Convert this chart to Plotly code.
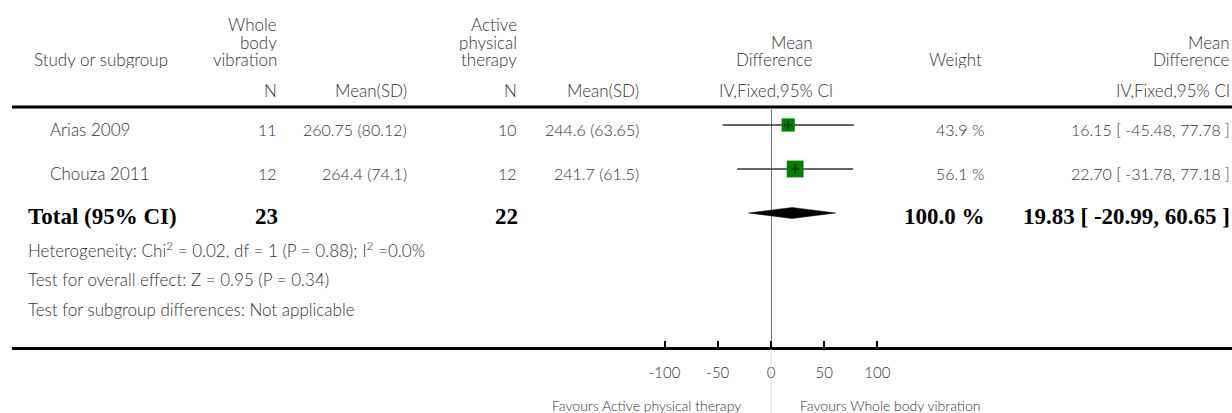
import plotly.graph_objects as go

# ---------------- data ----------------
studies = ["Arias 2009", "Chouza 2011"]
n_wbv = [11, 12]
msd_wbv = ["260.75 (80.12)", "264.4 (74.1)"]
n_apt = [10, 12]
msd_apt = ["244.6 (63.65)", "241.7 (61.5)"]
md = [16.15, 22.70]
ci_lo = [-45.48, -31.78]
ci_hi = [77.78, 77.18]
weights = [43.9, 56.1]

total_label = "Total (95% CI)"
total_n_wbv = 23
total_n_apt = 22
total_md = 19.83
total_lo = -20.99
total_hi = 60.65
total_weight = 100.0

tick_vals = [-100, -50, 0, 50, 100]
tick_text = ["-100", "-50", "0", "50", "100"]

footnotes = [
    "Heterogeneity: Chi<sup>2</sup> = 0.02, df = 1 (P = 0.88); I<sup>2</sup> =0.0%",
    "Test for overall effect: Z = 0.95 (P = 0.34)",
    "Test for subgroup differences: Not applicable",
]
favours_left = "Favours Active physical therapy"
favours_right = "Favours Whole body vibration"

# ---------------- layout constants ----------------
W, H = 1232, 413
PX_PER_UNIT = 1.064
ZERO_PX = 771
AX_LEFT_PX = 12
PLOT_TOP_PX = 109
AXIS_PX = 347
ROW_Y = [125, 169]
TOTAL_Y = 213
TEXT_DY = 5
FOOT_Y = [249, 279, 309]
DIAMOND_HALF = 5.5
SQUARE_SCALE = 0.3

BODY = "Lato, 'Open Sans', sans-serif"
BOLD = "'Liberation Serif', 'Times New Roman', serif"
TXT = "#333333"
WORD_SIZE = 17
NUM_SIZE = 16


def fx(px):
    return px / W


def fy(py):
    return (H - py) / H


x_range = [(AX_LEFT_PX - ZERO_PX) / PX_PER_UNIT, (W - ZERO_PX) / PX_PER_UNIT]

fig = go.Figure()

# CI lines
ci_x, ci_y = [], []
for lo, hi, y in zip(ci_lo, ci_hi, ROW_Y):
    ci_x += [lo, hi, None]
    ci_y += [y, y, None]
fig.add_trace(go.Scatter(x=ci_x, y=ci_y, mode="lines",
                         line=dict(color="#333333", width=1.5), hoverinfo="skip"))

# weight squares
fig.add_trace(go.Scatter(x=md, y=ROW_Y, mode="markers",
                         marker=dict(symbol="square", color="#008000", opacity=1,
                                     size=[w * SQUARE_SCALE for w in weights],
                                     line=dict(width=0)),
                         hoverinfo="skip"))
# centre crosses
fig.add_trace(go.Scatter(x=md, y=ROW_Y, mode="markers",
                         marker=dict(symbol="cross-thin", size=6, opacity=1,
                                     line=dict(color="#111111", width=1)),
                         hoverinfo="skip"))

# pooled diamond
fig.add_trace(go.Scatter(
    x=[total_lo, total_md, total_hi, total_md, total_lo],
    y=[TOTAL_Y, TOTAL_Y - DIAMOND_HALF, TOTAL_Y, TOTAL_Y + DIAMOND_HALF, TOTAL_Y],
    mode="lines", fill="toself", fillcolor="black",
    line=dict(color="black", width=0.5), hoverinfo="skip"))

ann = []


def txt(x, y, s, anchor="right", size=WORD_SIZE, family=BODY, color=TXT,
        weight=300, height=None):
    a = dict(x=fx(x), y=fy(y), xref="paper", yref="paper", text=s,
             xanchor=anchor, yanchor="middle", showarrow=False,
             font=dict(family=family, size=size, color=color, weight=weight))
    if height is not None:
        a["height"] = height
        a["valign"] = "middle"
    ann.append(a)


# header
txt(32, 60, "Study or subgroup", "left", height=17)
for lines, xr in ((["Whole", "body", "vibration"], 279),
                  (["Active", "physical", "therapy"], 519)):
    for s, y in zip(lines, (25, 42.5, 60)):
        txt(xr, y, s, height=17)
txt(815, 42.5, "Mean", height=17)
txt(815, 60, "Difference", height=17)
txt(984, 60, "Weight", height=17)
txt(1232, 42.5, "Mean", height=17)
txt(1232, 60, "Difference", height=17)
for s, xr in (("N", 279), ("Mean(SD)", 409), ("N", 519), ("Mean(SD)", 641),
              ("IV,Fixed,95% CI", 835), ("IV,Fixed,95% CI", 1232)):
    txt(xr, 91, s)

# study rows
for i, name in enumerate(studies):
    y = ROW_Y[i] + TEXT_DY
    txt(48, y, name, "left")
    txt(279, y, str(n_wbv[i]), size=NUM_SIZE)
    txt(409, y, msd_wbv[i], size=NUM_SIZE)
    txt(519, y, str(n_apt[i]), size=NUM_SIZE)
    txt(641, y, msd_apt[i], size=NUM_SIZE)
    txt(986, y, f"{weights[i]:.1f} %", size=NUM_SIZE)
    txt(1232, y, f"{md[i]:.2f} [ {ci_lo[i]:.2f}, {ci_hi[i]:.2f} ]", size=NUM_SIZE)

# total row
ty = TOTAL_Y + 3
BS = 23
txt(26, ty, f"<b>{total_label}</b>", "left", BS, BOLD, "black", 700)
txt(280, ty, f"<b>{total_n_wbv}</b>", "right", BS, BOLD, "black", 700)
txt(520, ty, f"<b>{total_n_apt}</b>", "right", BS, BOLD, "black", 700)
txt(987, ty, f"<b>{total_weight:.1f} %</b>", "right", BS, BOLD, "black", 700)
txt(1232, ty, f"<b>{total_md:.2f} [ {total_lo:.2f}, {total_hi:.2f} ]</b>",
    "right", BS, BOLD, "black", 700)

for s, y in zip(footnotes, FOOT_Y):
    txt(26, y, s, "left")

txt(743, 405, favours_left, "right", 14)
txt(798, 405, favours_right, "left", 14)

shapes = [
    dict(type="line", xref="paper", yref="paper", x0=fx(AX_LEFT_PX), x1=1,
         y0=fy(107), y1=fy(107), line=dict(color="black", width=3)),
    dict(type="line", xref="x", yref="paper", x0=0, x1=0,
         y0=fy(349), y1=0, line=dict(color="#dddddd", width=1)),
]

fig.update_layout(
    width=W, height=H, autosize=False,
    margin=dict(l=0, r=0, t=0, b=0, pad=0),
    paper_bgcolor="white", plot_bgcolor="white",
    showlegend=False,
    annotations=ann, shapes=shapes,
    xaxis=dict(domain=[fx(AX_LEFT_PX), 1], range=x_range,
               showgrid=False, zeroline=True, zerolinecolor="#777777",
               zerolinewidth=1, showline=True, linecolor="black", linewidth=3,
               ticks="inside", ticklen=6, tickwidth=2, tickcolor="black",
               tickvals=tick_vals, ticktext=tick_text,
               tickfont=dict(family=BODY, size=15, color=TXT, weight=300),
               ticklabelstandoff=10, fixedrange=True),
    yaxis=dict(domain=[fy(AXIS_PX), fy(PLOT_TOP_PX)], range=[AXIS_PX, PLOT_TOP_PX],
               showgrid=False, zeroline=False, showticklabels=False,
               showline=False, ticks="", fixedrange=True),
)

fig.write_html("out.html", config={"displayModeBar": False},
               post_script="document.body.style.margin='0';document.body.style.overflow='hidden';")
